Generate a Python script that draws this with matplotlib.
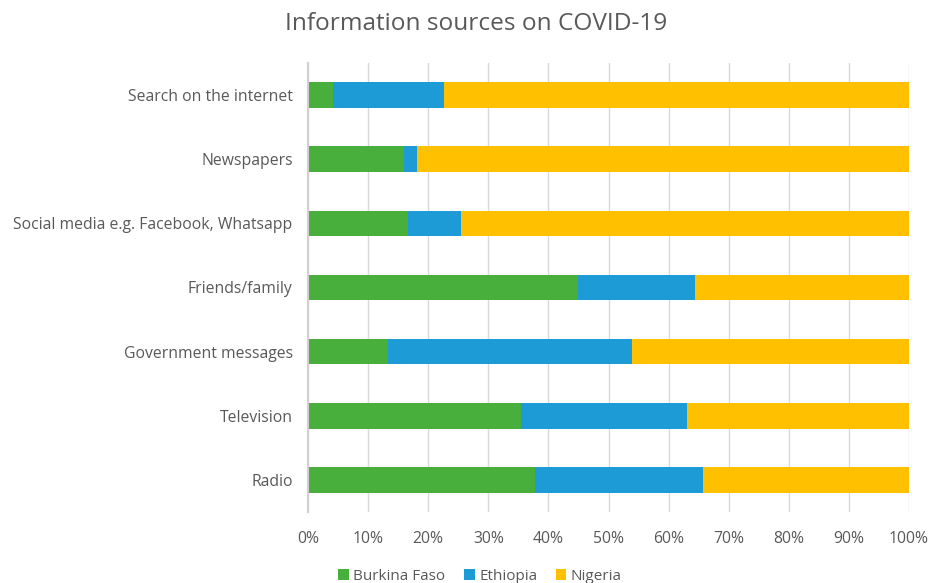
import matplotlib
matplotlib.use("Agg")
import matplotlib.pyplot as plt
from matplotlib.ticker import PercentFormatter

categories = ["Radio", "Television", "Government messages", "Friends/family",
              "Social media e.g. Facebook, Whatsapp", "Newspapers", "Search on the internet"]
burkina_faso = [37.8, 35.5, 13.3, 44.9, 16.7, 16.0, 4.2]
ethiopia = [27.9, 27.6, 40.6, 19.5, 8.8, 2.2, 18.4]
nigeria = [100 - b - e for b, e in zip(burkina_faso, ethiopia)]
series_names = ["Burkina Faso", "Ethiopia", "Nigeria"]
colors = ["#48ae3c", "#1c9bd7", "#ffc000"]

plt.rcParams['font.family'] = ['Open Sans', 'DejaVu Sans']
text_color = "#595959"

fig = plt.figure(figsize=(9.32, 5.83), dpi=100)
ax = fig.add_axes([0.3305, 0.1218, 0.6448, 0.7702])

y = list(range(len(categories)))
left = [0.0] * len(categories)
for name, vals, c in zip(series_names, [burkina_faso, ethiopia, nigeria], colors):
    ax.barh(y, vals, left=left, height=0.4, color=c, label=name, zorder=3)
    left = [l + v for l, v in zip(left, vals)]

ax.set_xlim(0, 100)
ax.set_ylim(-0.5, len(categories) - 0.5)
ax.set_xticks(range(0, 101, 10))
ax.xaxis.set_major_formatter(PercentFormatter(decimals=0))
ax.set_yticks(y)
ax.set_yticklabels(categories)
ax.tick_params(axis='both', length=0, labelsize=11.3, colors=text_color)
ax.tick_params(axis='x', pad=14)
ax.tick_params(axis='y', pad=11)
ax.grid(axis='x', color="#d9d9d9", linewidth=1, zorder=0)
for s in ["top", "right", "bottom"]:
    ax.spines[s].set_visible(False)
ax.spines["left"].set_color("#d0d0d0")
ax.spines["left"].set_linewidth(1.5)
ax.spines["left"].set_zorder(4)

fig.text(0.511, 0.958, "Information sources on COVID-19", ha="center", va="center",
         fontsize=17.6, color=text_color)

leg = fig.legend(loc="center", bbox_to_anchor=(0.515, 0.011), ncol=3, frameon=False,
                 fontsize=11, handlelength=0.7, handleheight=0.7, handletextpad=0.3,
                 columnspacing=1.2)
for t in leg.get_texts():
    t.set_color(text_color)

fig.savefig("out.png", dpi=100)
